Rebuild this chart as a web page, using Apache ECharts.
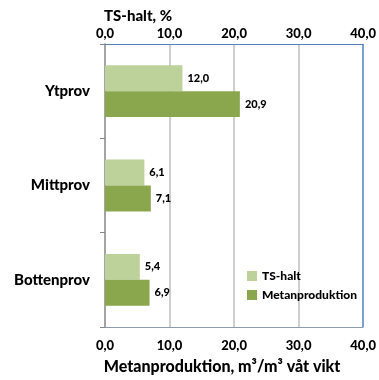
<!DOCTYPE html>
<html><head><meta charset="utf-8">
<script src="https://cdn.jsdelivr.net/npm/echarts@6/dist/echarts.min.js"></script>
<style>html,body{margin:0;padding:0;background:#fff}#c{width:379px;height:380px}</style>
</head><body><div id="c"></div>
<script>
const categories = ['Ytprov', 'Mittprov', 'Bottenprov'];
const tsHalt = [12.0, 6.1, 5.4];
const metanproduktion = [20.9, 7.1, 6.9];
const seriesNames = ['TS-halt', 'Metanproduktion'];
const axisTicks = [0, 10, 20, 30, 40];

const FONT = 'Lato';
const W = 900;
const fmt = v => v.toFixed(1).replace('.', ',');
const chart = echarts.init(document.getElementById('c'));
chart.setOption({
  animation: false,
  textStyle: {fontFamily: FONT},
  title: {text: 'TS-halt, %', left: 99, top: 4,
    textStyle: {fontFamily: FONT, fontSize: 15, fontWeight: W, color: '#000'}},
  grid: {left: 105, right: 15, top: 44, bottom: 51},
  legend: {orient: 'vertical', left: 242, top: 265, itemWidth: 10, itemHeight: 10, itemGap: 7,
    data: seriesNames, icon: 'rect',
    textStyle: {fontFamily: FONT, fontSize: 12, fontWeight: W, color: '#000'}},
  xAxis: [
    {type: 'value', position: 'bottom', min: axisTicks[0], max: axisTicks[axisTicks.length-1], interval: 10,
     name: 'Metanproduktion, m³/m³ våt vikt', nameLocation: 'middle', nameGap: 32,
     nameTextStyle: {fontFamily: FONT, fontSize: 16, fontWeight: W, color: '#000', padding: [0, 24, 0, 0]},
     axisLine: {show: true, lineStyle: {color: '#8c9bb0', width: 1}},
     axisTick: {show: false},
     axisLabel: {formatter: fmt, fontFamily: FONT, fontSize: 13, fontWeight: W, color: '#000', margin: 12},
     splitLine: {show: true, lineStyle: {color: ['transparent', '#bfbfbf', '#bfbfbf', '#bfbfbf', '#4f81bd'], width: 1.5}}},
    {type: 'value', position: 'top', min: axisTicks[0], max: axisTicks[axisTicks.length-1], interval: 10,
     axisLine: {show: true, lineStyle: {color: '#4f81bd', width: 1}},
     axisTick: {show: false},
     axisLabel: {formatter: fmt, fontFamily: FONT, fontSize: 13, fontWeight: W, color: '#000', margin: 4},
     splitLine: {show: false}}
  ],
  yAxis: {type: 'category', data: categories, inverse: true,
    axisLine: {show: true, lineStyle: {color: '#868686', width: 1.5}},
    axisTick: {show: true, length: 5, lineStyle: {color: '#868686'}},
    axisLabel: {fontFamily: FONT, fontSize: 15, fontWeight: W, color: '#000', margin: 15}},
  series: [
    {name: seriesNames[0], type: 'bar', xAxisIndex: 1, data: tsHalt,
     barGap: '0%', barCategoryGap: '45%',
     itemStyle: {color: '#bcd29a'},
     label: {show: true, position: 'right', distance: 5, formatter: p => fmt(p.value),
       fontFamily: FONT, fontSize: 11, fontWeight: W, color: '#000'}},
    {name: seriesNames[1], type: 'bar', xAxisIndex: 0, data: metanproduktion,
     barGap: '0%', barCategoryGap: '45%',
     itemStyle: {color: '#8ba74e'},
     label: {show: true, position: 'right', distance: 5, formatter: p => fmt(p.value),
       fontFamily: FONT, fontSize: 11, fontWeight: W, color: '#000'}}
  ]
});
</script></body></html>
